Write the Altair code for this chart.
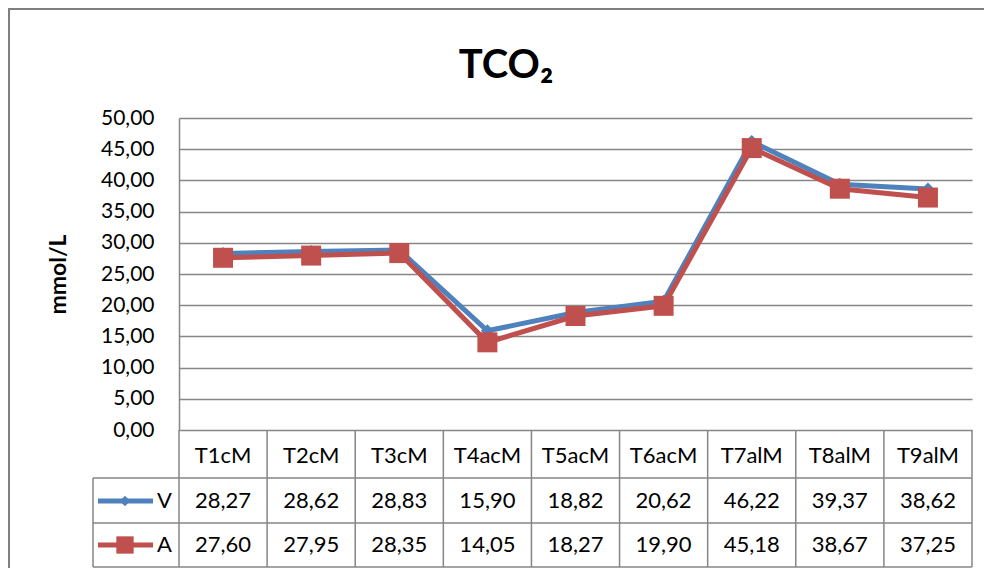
import altair as alt
import pandas as pd

# ---- data ----
categories = ["T1cM", "T2cM", "T3cM", "T4acM", "T5acM", "T6acM", "T7alM", "T8alM", "T9alM"]
series_names = ["V", "A"]
v_values = [28.27, 28.62, 28.83, 15.90, 18.82, 20.62, 46.22, 39.37, 38.62]
a_values = [27.60, 27.95, 28.35, 14.05, 18.27, 19.90, 45.18, 38.67, 37.25]
y_ticks = [0, 5, 10, 15, 20, 25, 30, 35, 40, 45, 50]
title_text = "TCO₂"
y_title = "mmol/L"

colors = ["#4F81BD", "#C0504D"]
shapes = ["diamond", "square"]
sizes = [170, 400]
legend_sizes = [110, 300]

rows = []
for s, vals in zip(series_names, [v_values, a_values]):
    for c, v in zip(categories, vals):
        rows.append({"cat": c, "series": s, "value": v,
                     "label": f"{v:.2f}".replace(".", ",")})
df = pd.DataFrame(rows)
df_cat = pd.DataFrame({"cat": categories})

W, H = 793, 312
FONT = "Lato"
GRID = "#868686"
ROW_TOP = [H + 48, H + 93]
ROW_BOTTOM = H + 137
ROW_CENTER = [H + 71, H + 115]

xscale = alt.Scale(type="band", domain=categories, paddingInner=0, paddingOuter=0)
yscale = alt.Scale(domain=[0, 50], nice=False, zero=True)

yaxis = alt.Axis(
    values=y_ticks, grid=True, gridColor=GRID, gridWidth=1.5,
    domain=True, domainColor=GRID, domainWidth=1.5, ticks=False,
    labelExpr="replace(format(datum.value, '.2f'), '.', ',')",
    labelOverlap=False, labelFlush=False,
    labelFont=FONT, labelFontSize=21, labelColor="black", labelPadding=25,
    title=y_title, titleFont=FONT, titleFontSize=23, titleFontWeight="bold",
    titleColor="black", titleX=-121, titleY=H / 2, titleAngle=-90,
    titleAlign="center", titleBaseline="middle",
)


def X(band=0.5):
    return alt.X("cat:N", scale=xscale, axis=None, bandPosition=band)


def Y():
    return alt.Y("value:Q", scale=yscale, axis=yaxis)


base = alt.Chart(df)
layers = []

dummy = alt.Data(values=[{"a": 1}])

# table lines
layers.append(alt.Chart(df_cat).mark_rule(color=GRID, strokeWidth=1.5).encode(
    x=X(0), y=alt.value(H), y2=alt.value(ROW_BOTTOM)))
layers.append(alt.Chart(dummy).mark_rule(color=GRID, strokeWidth=1.5).encode(
    x=alt.value(W), y=alt.value(H), y2=alt.value(ROW_BOTTOM)))
layers.append(alt.Chart(dummy).mark_rule(color=GRID, strokeWidth=1.5).encode(
    x=alt.value(-86), y=alt.value(ROW_TOP[0]), y2=alt.value(ROW_BOTTOM)))
for yy in ROW_TOP + [ROW_BOTTOM]:
    layers.append(alt.Chart(dummy).mark_rule(color=GRID, strokeWidth=1.5).encode(
        x=alt.value(-86), x2=alt.value(W), y=alt.value(yy)))

# outer chart border (left + top)
layers.append(alt.Chart(dummy).mark_rule(color="#7f7f7f", strokeWidth=2).encode(
    x=alt.value(-170), y=alt.value(-109), y2=alt.value(H + 140)))
layers.append(alt.Chart(dummy).mark_rule(color="#7f7f7f", strokeWidth=2).encode(
    x=alt.value(-171), x2=alt.value(W + 20), y=alt.value(-109)))

# chart title
layers.append(alt.Chart(pd.DataFrame({"t": [title_text]})).mark_text(
    font=FONT, fontSize=40, fontWeight="bold", color="black",
    align="center", baseline="alphabetic").encode(
    x=alt.value(327), y=alt.value(-40), text="t:N"))

# series lines + markers
for i, s in enumerate(series_names):
    sb = base.transform_filter(alt.datum.series == s)
    layers.append(sb.mark_line(color=colors[i], strokeWidth=5).encode(
        x=X(), y=Y()))
    layers.append(sb.mark_point(shape=shapes[i], filled=True, opacity=1,
                                color=colors[i], size=sizes[i]).encode(
        x=X(), y=Y()))

# table header
layers.append(alt.Chart(df_cat).mark_text(font=FONT, fontSize=22, color="black",
                                          baseline="middle").encode(
    x=X(), y=alt.value(H + 26), text="cat:N"))

# table rows + legend keys
for i, s in enumerate(series_names):
    sb = base.transform_filter(alt.datum.series == s)
    layers.append(sb.mark_text(font=FONT, fontSize=22, color="black",
                               baseline="middle").encode(
        x=X(), y=alt.value(ROW_CENTER[i]), text="label:N"))
    sd = alt.Chart(pd.DataFrame({"series": [s]}))
    layers.append(sd.mark_rule(color=colors[i], strokeWidth=5).encode(
        x=alt.value(-81), x2=alt.value(-26), y=alt.value(ROW_CENTER[i])))
    layers.append(sd.mark_point(shape=shapes[i], filled=True, opacity=1,
                                color=colors[i], size=legend_sizes[i]).encode(
        x=alt.value(-54), y=alt.value(ROW_CENTER[i])))
    layers.append(sd.mark_text(font=FONT, fontSize=22, color="black",
                               align="right", baseline="middle").encode(
        x=alt.value(-7), y=alt.value(ROW_CENTER[i]), text="series:N"))

chart = alt.layer(*layers).properties(
    width=W, height=H,
    background="white",
    autosize=alt.AutoSizeParams(type="none"),
    padding={"left": 171, "top": 110, "right": 12, "bottom": 138},
).configure_view(stroke=None)

chart.save("out.html", embed_options={"renderer": "svg", "actions": False})
